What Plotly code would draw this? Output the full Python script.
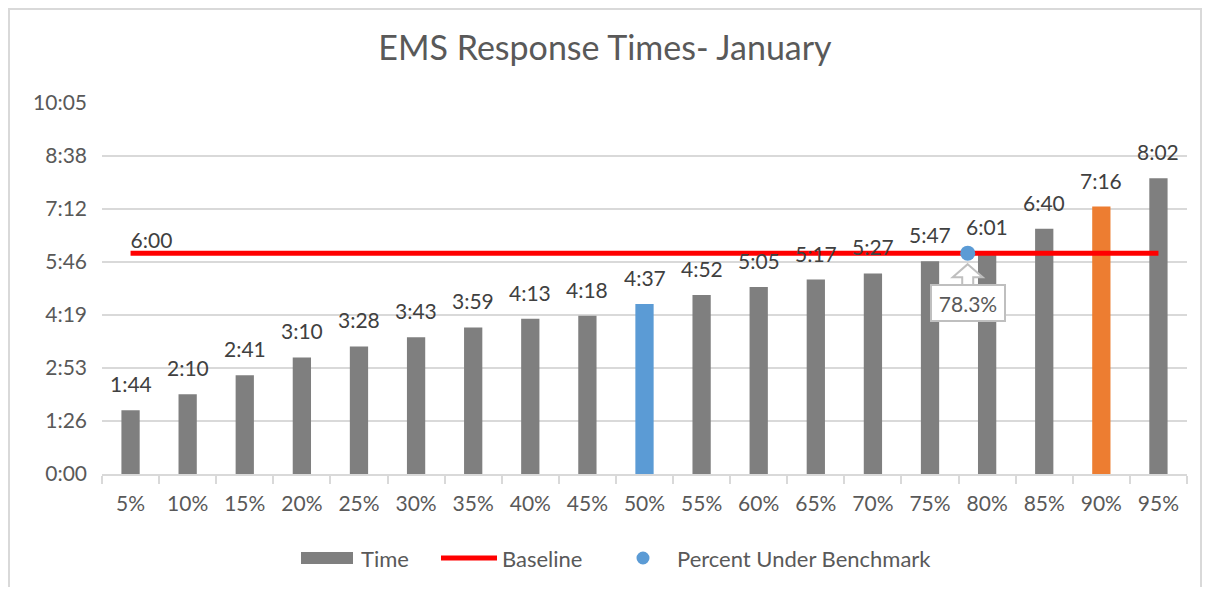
import plotly.graph_objects as go

# percentile categories and response times (seconds)
percentiles = [5, 10, 15, 20, 25, 30, 35, 40, 45, 50, 55, 60, 65, 70, 75, 80, 85, 90, 95]
times_sec = [104, 130, 161, 190, 208, 223, 239, 253, 258, 277, 292, 305, 317, 327, 347, 361, 400, 436, 482]
baseline_sec = 360
pct_under = 78.3

GRAY = "#7f7f7f"
BLUE = "#5b9bd5"
ORANGE = "#ed7d31"
RED = "#ff0000"
TXT = "#595959"
LBL = "#404040"
FONT = "Lato, Open Sans, sans-serif"

# plot area (figure pixels), used for the hand drawn legend
L, T, W, H = 94, 95, 1085, 371


def mmss(s):
    s = int(round(s))
    return "%d:%02d" % (s // 60, s % 60)


def px(x):
    # page pixel -> paper x
    return (x - 8 - L) / W


def py(y):
    # page pixel -> paper y
    return (T + H - (y - 8)) / H


cat_labels = ["%d%%" % p for p in percentiles]
xs = list(range(len(percentiles)))

bar_colors = []
for p in percentiles:
    if p == 50:
        bar_colors.append(BLUE)
    elif p == 90:
        bar_colors.append(ORANGE)
    else:
        bar_colors.append(GRAY)

# y axis ticks in steps of 0.001 day, like excel does
step = 86.4
yticks = [i * step for i in range(8)]
ytext = [mmss(v) for v in yticks]

# position of the benchmark point between the categories
i_lo = max(i for i, p in enumerate(percentiles) if p <= pct_under)
pt_x = i_lo + (pct_under - percentiles[i_lo]) / (percentiles[i_lo + 1] - percentiles[i_lo])

fig = go.Figure()

fig.add_trace(go.Bar(
    x=xs, y=times_sec, name="Time",
    marker=dict(color=bar_colors, line=dict(width=0)),
    width=0.32,
))

fig.add_trace(go.Scatter(
    x=xs, y=[baseline_sec] * len(xs), name="Baseline",
    mode="lines+text",
    line=dict(color=RED, width=5),
    text=[mmss(baseline_sec)] + [""] * (len(xs) - 1),
    textposition="top right",
    textfont=dict(size=21, color=LBL, family=FONT),
))

fig.add_trace(go.Scatter(
    x=[pt_x], y=[baseline_sec], name="Percent Under Benchmark",
    mode="markers",
    marker=dict(color=BLUE, size=15),
))

# data labels above the bars
for xi, t in zip(xs, times_sec):
    fig.add_annotation(x=xi, y=t, text=mmss(t), showarrow=False,
                       yanchor="bottom", yshift=12,
                       font=dict(size=21, color=LBL, family=FONT))

# callout for the benchmark point: hollow arrow + box
fig.add_shape(type="path", xref="x", yref="y",
              xsizemode="pixel", ysizemode="pixel",
              xanchor=pt_x, yanchor=baseline_sec,
              path="M0,-11 L15,-24 L5.5,-24 L5.5,-32 L-5.5,-32 L-5.5,-24 L-15,-24 Z",
              fillcolor="white", line=dict(color="#bfbfbf", width=2), layer="above")
fig.add_annotation(
    x=pt_x, y=baseline_sec, text="%.1f%%" % pct_under,
    showarrow=False, yanchor="top", yshift=-31,
    width=70, height=32, borderpad=1,
    bordercolor="#bfbfbf", borderwidth=2, bgcolor="white",
    font=dict(size=21, color=TXT, family=FONT),
)

# legend drawn by hand so the keys look like excel's
fig.add_shape(type="rect", xref="paper", yref="paper",
              x0=px(301), x1=px(353), y0=py(564), y1=py(552),
              fillcolor=GRAY, line=dict(width=0))
fig.add_shape(type="line", xref="paper", yref="paper",
              x0=px(441), x1=px(497), y0=py(558), y1=py(558),
              line=dict(color=RED, width=5))
fig.add_shape(type="circle", xref="paper", yref="paper",
              x0=px(636.5), x1=px(649.5), y0=py(564.5), y1=py(551.5),
              fillcolor=BLUE, line=dict(width=0))
for name, x_left in [("Time", 359), ("Baseline", 500), ("Percent Under Benchmark", 675)]:
    fig.add_annotation(x=px(x_left), y=py(558), xref="paper", yref="paper",
                       text=name, showarrow=False, xanchor="left", yanchor="middle",
                       font=dict(size=22, color=TXT, family=FONT))

# outer chart frame
fig.add_shape(type="rect", xref="paper", yref="paper",
              x0=px(9), x1=px(1201), y0=py(600), y1=py(9),
              line=dict(color="#d9d9d9", width=2))

fig.update_layout(
    width=1194, height=579,
    margin=dict(l=L, r=1194 - L - W, t=T, b=579 - T - H),
    paper_bgcolor="white", plot_bgcolor="white",
    font=dict(family=FONT, size=21, color=TXT),
    title=dict(text="EMS Response Times- January", x=0.5, xanchor="center",
               y=0.931, yanchor="middle", font=dict(size=34, color=TXT)),
    showlegend=False,
)

fig.update_xaxes(
    range=[-0.5, len(xs) - 0.5],
    tickvals=xs, ticktext=cat_labels, ticks="",
    showgrid=False, zeroline=False,
    showline=True, linecolor="#d9d9d9", linewidth=2,
    minor=dict(tick0=-0.5, dtick=1, ticks="outside", ticklen=8,
               tickcolor="#d9d9d9", tickwidth=2, showgrid=False),
    tickfont=dict(size=21, color=TXT),
    ticklabelstandoff=10,
)
fig.update_yaxes(
    range=[0, yticks[-1]],
    tickvals=yticks, ticktext=ytext,
    showgrid=True, gridcolor="#d9d9d9", gridwidth=2,
    zeroline=False, showline=False, ticks="",
    tickfont=dict(size=21, color=TXT),
    ticklabelstandoff=14,
)

fig.write_html("out.html")
